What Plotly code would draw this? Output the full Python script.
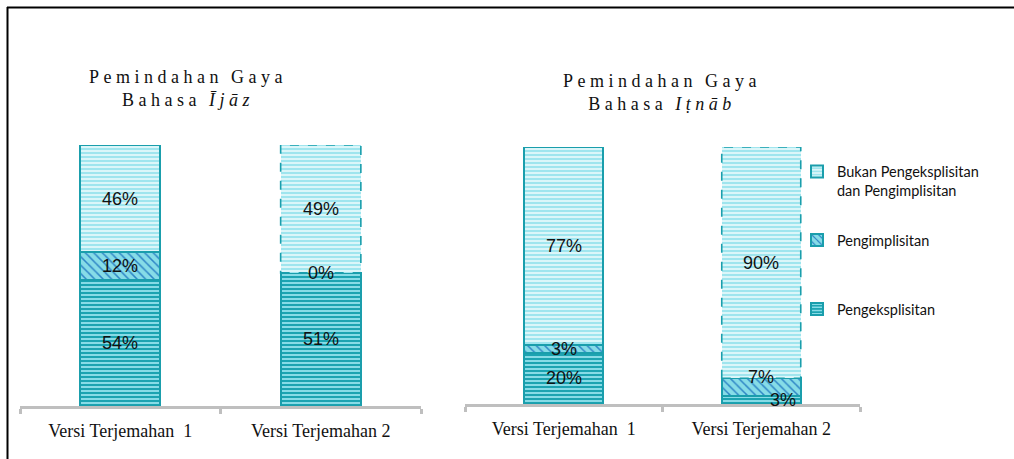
import plotly.graph_objects as go

# ---------------- data ----------------
categories = ["Versi Terjemahan\u00a0 1", "Versi Terjemahan 2"]
series_names = ["Pengeksplisitan", "Pengimplisitan",
                "Bukan Pengeksplisitan<br>dan Pengimplisitan"]
ijaz_eksplisit = [54, 51]
ijaz_implisit = [12, 0]
ijaz_bukan = [46, 49]
itnab_eksplisit = [20, 3]
itnab_implisit = [3, 7]
itnab_bukan = [77, 90]

# ---------------- styles ----------------
W, H = 1014, 459
TEAL = "#1A9EAC"
BAR_W = 0.4
SP = "\u2005"
WORD_SP = "\u2002\u2009"


def spaced(word):
    return SP.join(list(word))


styles = [
    dict(pattern=dict(shape="-", bgcolor="#1CA3B1", fgcolor="#93E2EC", size=4, solidity=0.45, fillmode="replace")),
    dict(pattern=dict(shape="\\", bgcolor="#86DCE7", fgcolor="#2F86C6", size=6, solidity=0.25, fillmode="replace")),
    dict(pattern=dict(shape="-", bgcolor="#9FE5EE", fgcolor="#E2F8FB", size=4, solidity=0.45, fillmode="replace")),
]

panels = [
    ("x", "y", [ijaz_eksplisit, ijaz_implisit, ijaz_bukan]),
    ("x2", "y2", [itnab_eksplisit, itnab_implisit, itnab_bukan]),
]
legend_ids = ["legend", "legend2", "legend3"]

fig = go.Figure()
annotations = []
shapes = []

for p, (xa, ya, series) in enumerate(panels):
    for s, vals in enumerate(series):
        lw = [2, 0] if s == 2 else [2, 2]
        fig.add_trace(go.Bar(
            x=categories, y=vals, name=series_names[s],
            xaxis=xa, yaxis=ya, width=BAR_W,
            marker=dict(pattern=styles[s]["pattern"],
                        line=dict(color=TEAL, width=lw)),
            showlegend=(p == 0), legend=legend_ids[2 - s],
            hoverinfo="skip",
        ))
    # value labels placed at the middle of each stacked segment
    for c in range(len(categories)):
        total = sum(v[c] for v in series)
        base = 0.0
        for s, vals in enumerate(series):
            h = vals[c] / total * 100
            xshift, yshift = 0, 0
            if p == 1 and c == 1 and s == 0:
                xshift = 22
            if p == 1 and c == 1 and s == 1:
                yshift = 10
            annotations.append(dict(
                x=categories[c], y=base + h / 2, xref=xa, yref=ya,
                text=f"{vals[c]}%", showarrow=False,
                xshift=xshift, yshift=yshift,
                font=dict(family="Liberation Sans, Arial", size=18, color="#111111"),
            ))
            base += h
        # dashed outline for the top segment of the second version
        if c == 1:
            lower = (series[0][c] + series[1][c]) / total * 100
            shapes.append(dict(
                type="rect", xref=xa, yref=ya,
                x0=c - BAR_W / 2, x1=c + BAR_W / 2, y0=lower, y1=100,
                line=dict(color=TEAL, width=1.6, dash="dash"),
                fillcolor="rgba(0,0,0,0)", layer="above",
            ))

# panel titles
title_font = dict(family="Liberation Serif, Times New Roman", size=18, color="#111111")
for cx, cy, word in [(186, 88, "Ījāz"), (660, 92, "Iṭnāb")]:
    annotations.append(dict(
        x=cx / W, y=1 - cy / H, xref="paper", yref="paper", showarrow=False,
        xanchor="center", yanchor="middle",
        text=spaced("Pemindahan") + WORD_SP + spaced("Gaya") + "<br>"
        + spaced("Bahasa") + WORD_SP + "<i>" + spaced(word) + "</i>",
        font=title_font, align="center",
    ))

# outer frame lines
shapes.append(dict(type="line", xref="paper", yref="paper",
                   x0=7 / W, x1=1, y0=1 - 7.5 / H, y1=1 - 7.5 / H,
                   line=dict(color="black", width=2)))
shapes.append(dict(type="line", xref="paper", yref="paper",
                   x0=7.5 / W, x1=7.5 / W, y0=0, y1=1 - 7 / H,
                   line=dict(color="black", width=2)))

xaxis_common = dict(
    type="category", showline=True, linecolor="#BFBFBF", linewidth=3,
    ticks="outside", ticklen=5, tickwidth=3, tickcolor="#BFBFBF",
    tickson="boundaries", showgrid=False, zeroline=False, fixedrange=True,
    tickfont=dict(family="Liberation Serif, Times New Roman", size=18, color="#111111"),
)
yaxis_common = dict(range=[0, 100], visible=False, fixedrange=True)

legend_font = dict(family="Lato, Calibri, sans-serif", size=14.5, color="#111111")
legend_common = dict(xanchor="left", yanchor="middle", font=legend_font,
                     bgcolor="rgba(0,0,0,0)", valign="top", itemclick=False)

fig.update_layout(
    width=W, height=H, margin=dict(l=0, r=0, t=0, b=0),
    paper_bgcolor="white", plot_bgcolor="white",
    barmode="stack", barnorm="percent",
    xaxis=dict(domain=[20 / W, 421 / W], anchor="y", ticklabelstandoff=6, **xaxis_common),
    yaxis=dict(domain=[1 - 406 / H, 1 - 145 / H], anchor="x", **yaxis_common),
    xaxis2=dict(domain=[465 / W, 860 / W], anchor="y2", ticklabelstandoff=6, **xaxis_common),
    yaxis2=dict(domain=[1 - 404 / H, 1 - 147 / H], anchor="x2", **yaxis_common),
    legend=dict(x=797 / W, y=1 - 181 / H, **legend_common),
    legend2=dict(x=797 / W, y=1 - 240 / H, **legend_common),
    legend3=dict(x=797 / W, y=1 - 309 / H, **legend_common),
    annotations=annotations, shapes=shapes,
)

fig.write_html("out.html", config={"displayModeBar": False},
               post_script="document.body.style.margin='0';")
